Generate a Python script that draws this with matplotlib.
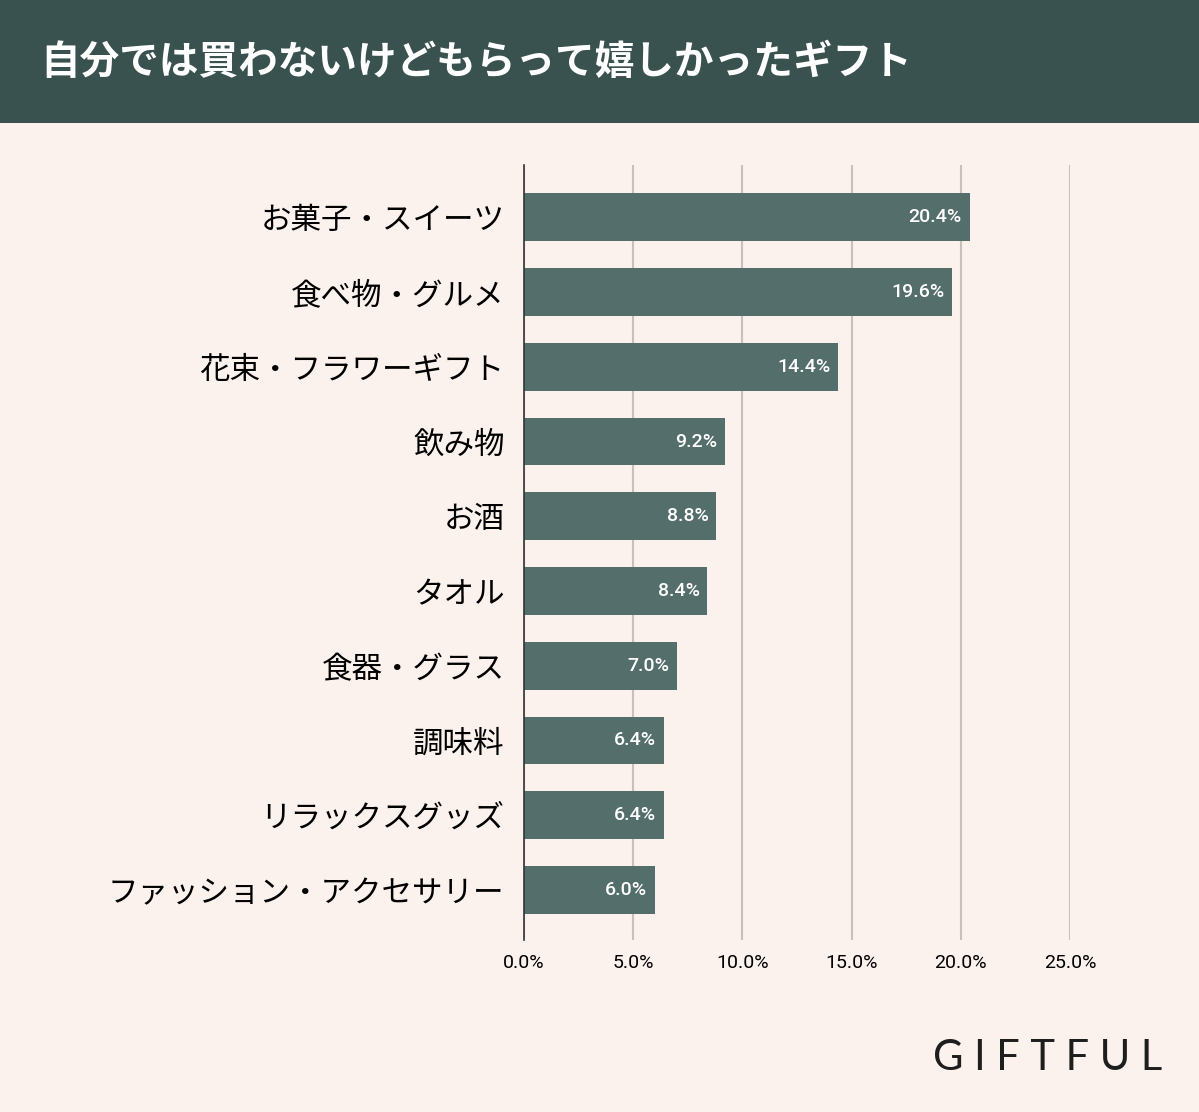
import matplotlib
matplotlib.use("Agg")
import matplotlib.pyplot as plt

categories = ["お菓子・スイーツ", "食べ物・グルメ", "花束・フラワーギフト", "飲み物", "お酒",
              "タオル", "食器・グラス", "調味料", "リラックスグッズ", "ファッション・アクセサリー"]
values = [20.4, 19.6, 14.4, 9.2, 8.8, 8.4, 7.0, 6.4, 6.4, 6.0]
ticks = [0, 5, 10, 15, 20, 25]
TITLE = "自分では買わないけどもらって嬉しかったギフト"

BG, HEAD, BAR = "#fbf2ee", "#3a524f", "#546f6b"
JP = "Noto Sans CJK JP"
W, H = 1199, 1112

fig = plt.figure(figsize=(W / 100, H / 100), dpi=100)
fig.patch.set_facecolor(BG)

# header band
fig.patches.append(plt.Rectangle((0, 1 - 123 / H), 1, 123 / H, transform=fig.transFigure,
                                 fc=HEAD, ec="none"))
fig.text(40 / W, 1 - 62 / H, TITLE, fontsize=28.5, fontweight="bold", color="white",
         family=JP, va="center", ha="left")

ax = fig.add_axes([524 / W, 1 - 940 / H, (1070 - 524) / W, (940 - 165) / H])
ax.set_facecolor(BG)
y = list(range(len(categories)))
ax.barh(y, values, height=0.64, color=BAR, zorder=3)
for yi, v in zip(y, values):
    ax.text(v - 0.35, yi, f"{v:.1f}%", color="white", fontsize=14, ha="right", va="center",
            family="Roboto", fontweight="medium", zorder=4)
ax.set_ylim(len(categories) - 0.33, -0.7)
ax.set_xlim(0, 25)
ax.set_xticks(ticks)
ax.set_xticklabels([f"{t:.1f}%" for t in ticks], fontsize=14, family="Roboto")
ax.set_yticks(y)
ax.set_yticklabels(categories, fontsize=22, family=JP)
ax.tick_params(axis="x", length=0, pad=10)
ax.tick_params(axis="y", length=0, pad=14)
ax.grid(axis="x", color="#c9c0bd", linewidth=1.5, zorder=0)
for s in ["top", "right", "bottom"]:
    ax.spines[s].set_visible(False)
ax.spines["left"].set_color("#333333")
ax.spines["left"].set_linewidth(1.2)
ax.spines["left"].set_zorder(5)

# logo
fig.text(1162 / W, 1 - 1058 / H, "G I F T F U L", fontsize=30, family="Lato",
         color="#1e1e1e", ha="right", va="center")

fig.savefig("out.png", dpi=100, facecolor=BG)
